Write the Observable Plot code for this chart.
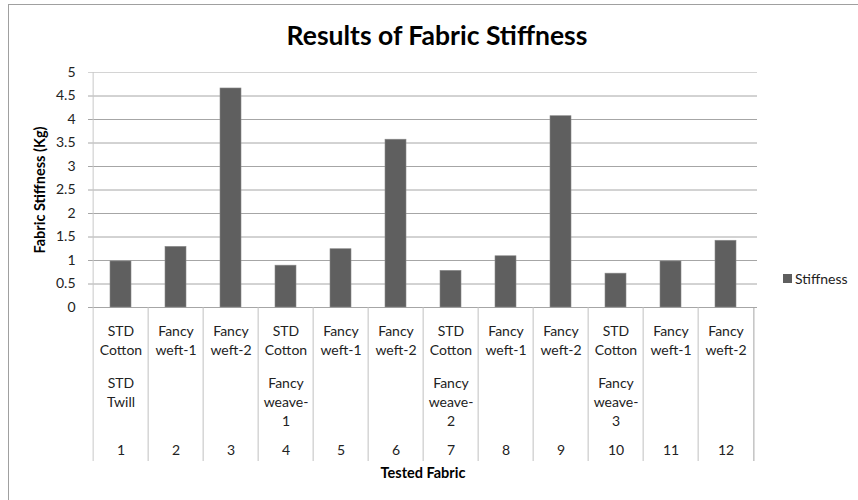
<!DOCTYPE html>
<html>
<head>
<meta charset="utf-8">
<script src="https://cdn.jsdelivr.net/npm/d3@7"></script>
<script src="https://cdn.jsdelivr.net/npm/@observablehq/plot@0.6"></script>
<style>
  html, body { margin: 0; padding: 0; background: #fff; overflow: hidden; }
  #wrap { position: relative; width: 858px; height: 500px; overflow: hidden; font-family: Lato, "Open Sans", sans-serif; }
  #border { position: absolute; left: 8px; top: 4px; width: 900px; height: 600px; border: 1px solid #a0a0a0; box-sizing: border-box; }
  #title { position: relative; height: 56px; line-height: 70px; text-align: center; font-size: 26.5px; font-weight: bold; color: #000; }
  #title span { display: inline-block; transform: translateX(8px); }
  #chart { position: relative; }
  #legend { position: absolute; left: 783px; top: 270px; font-size: 14px; color: #222; display: flex; align-items: center; }
  #legend i { display: inline-block; width: 9px; height: 9px; background: #5f5f5f; margin-right: 3px; }
</style>
</head>
<body>
<div id="wrap">
  <div id="border"></div>
  <div id="title"><span>Results of Fabric Stiffness</span></div>
  <div id="chart"></div>
  <div id="legend"><i></i><span>Stiffness</span></div>
</div>
<script>
const categories = ["1","2","3","4","5","6","7","8","9","10","11","12"];
const stiffness = [0.98, 1.29, 4.66, 0.89, 1.24, 3.57, 0.78, 1.09, 4.07, 0.72, 0.98, 1.42];
const fabricTypes = ["STD\nCotton","Fancy\nweft-1","Fancy\nweft-2",
                     "STD\nCotton","Fancy\nweft-1","Fancy\nweft-2",
                     "STD\nCotton","Fancy\nweft-1","Fancy\nweft-2",
                     "STD\nCotton","Fancy\nweft-1","Fancy\nweft-2"];
const groupLabels = ["STD\nTwill","","","Fancy\nweave-\n1","","","Fancy\nweave-\n2","","","Fancy\nweave-\n3","",""];
const yTicks = [0, 0.5, 1, 1.5, 2, 2.5, 3, 3.5, 4, 4.5, 5];
const yLabel = "Fabric Stiffness (Kg)";
const xLabel = "Tested Fabric";

const data = categories.map((c, i) => ({cat: c, value: stiffness[i], type: fabricTypes[i], group: groupLabels[i]}));

const W = 858, H = 444, mL = 88, mR = 101, mT = 16, mB = 193;
const step = (W - mL - mR) / categories.length;
const tableDepth = 154;
const grid = "#a6a6a6";
const font = "Lato, 'Open Sans', sans-serif";

const chart = Plot.plot({
  width: W, height: H,
  marginLeft: mL, marginRight: mR, marginTop: mT, marginBottom: mB,
  style: {fontFamily: font, fontSize: "14px", color: "#222", background: "transparent"},
  x: {domain: categories, padding: 0, axis: null},
  y: {domain: [0, 5], axis: null},
  marks: [
    Plot.ruleY(yTicks.slice(0, -1), {y: d => d, stroke: grid, strokeWidth: 1}),
    Plot.ruleY(yTicks.slice(-1), {y: d => d, stroke: "#d4d4d4", strokeWidth: 1}),
    Plot.barY(data, {x: "cat", y: "value", fill: "#5f5f5f", stroke: "#8a8a8a", strokeWidth: 0.6, insetLeft: 17, insetRight: 17}),
    // table separators
    Plot.ruleX(categories.slice(0, 1), {x: d => d, dx: -step / 2, stroke: "#c8c8c8", insetBottom: -tableDepth}),
    Plot.ruleX(categories.slice(1), {x: d => d, dx: -step / 2, stroke: "#c0c0c0", insetTop: H - mT - mB, insetBottom: -tableDepth}),
    Plot.ruleX(categories.slice(-1), {x: d => d, dx: step / 2, stroke: "#a6a6a6", insetTop: H - mT - mB, insetBottom: -tableDepth}),
    // y tick labels
    Plot.axisY(yTicks, {tickSize: 0, tickPadding: 13, tickFormat: d => String(d), fontSize: 14, label: null, color: "#222"}),
    // x table labels
    Plot.text(data, {x: "cat", text: "type", frameAnchor: "bottom", lineAnchor: "top", dy: 15, lineHeight: 1.36, fontSize: 14, fill: "#222"}),
    Plot.text(data, {x: "cat", text: "group", frameAnchor: "bottom", lineAnchor: "top", dy: 67, lineHeight: 1.36, fontSize: 14, fill: "#222"}),
    Plot.text(data, {x: "cat", text: "cat", frameAnchor: "bottom", lineAnchor: "middle", dy: 143, fontSize: 14, fill: "#222"}),
    // axis titles
    Plot.text([xLabel], {text: d => d, frameAnchor: "bottom", textAnchor: "middle", lineAnchor: "middle", dy: 166, fontWeight: "bold", fontSize: 14.5, fill: "#000"}),
    Plot.text([yLabel], {text: d => d, frameAnchor: "left", textAnchor: "middle", lineAnchor: "middle", rotate: -90, dx: -48, fontWeight: "bold", fontSize: 14.5, fill: "#000"})
  ]
});
document.getElementById("chart").appendChild(chart);
</script>
</body>
</html>
